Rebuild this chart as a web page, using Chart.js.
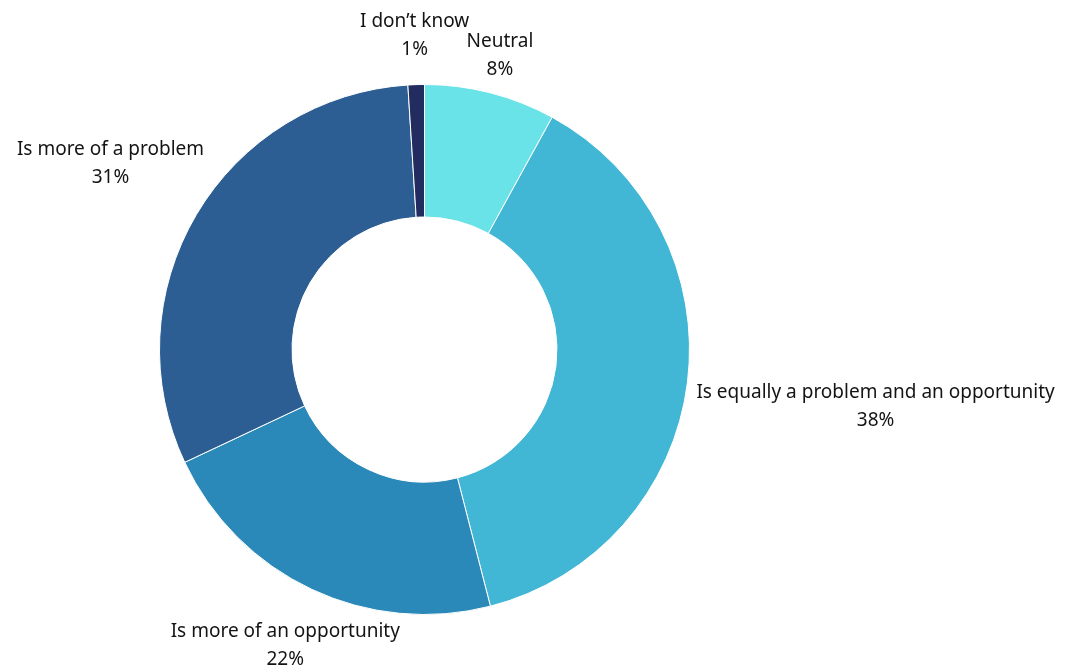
<!DOCTYPE html>
<html>
<head>
<meta charset="utf-8">
<script src="https://cdn.jsdelivr.net/npm/chart.js@4"></script>
<style>
  html, body { margin: 0; padding: 0; background: #fff; }
  #wrap { width: 1066px; height: 671px; }
</style>
</head>
<body>
<div id="wrap"><canvas id="donut"></canvas></div>
<script>
// Survey answers, clockwise from the top
const categories = [
  "Neutral",
  "Is equally a problem and an opportunity",
  "Is more of an opportunity",
  "Is more of a problem",
  "I don\u2019t know"
];
const shares = [8, 38, 22, 31, 1];
const sliceColors = ["#6ae3e8", "#42b6d5", "#2a89b8", "#2c5e94", "#232c5e"];

const FONT = "19px 'Noto Sans', sans-serif";
const LINE_H = 28;

// Draws "label / xx%" outside each slice, pushed out along the slice's mid-angle
const outsideLabels = {
  id: "outsideLabels",
  afterDatasetsDraw(chart) {
    const ctx = chart.ctx;
    const meta = chart.getDatasetMeta(0);
    ctx.save();
    ctx.font = FONT;
    ctx.fillStyle = "#141414";
    ctx.textAlign = "center";
    ctx.textBaseline = "middle";

    meta.data.forEach((arc, i) => {
      const p = arc.getProps(["x", "y", "startAngle", "endAngle", "outerRadius"], true);
      const mid = (p.startAngle + p.endAngle) / 2;
      const ux = Math.cos(mid), uy = Math.sin(mid);
      const lines = [categories[i], shares[i] + "%"];
      const w = Math.max(...lines.map((t) => ctx.measureText(t).width));
      const hw = w / 2, hh = (LINE_H + 18) / 2;
      // tiny slices get a bit more room so neighbours don't collide
      const gap = shares[i] < 2 ? 26 : 9;
      const target = p.outerRadius + gap;

      const nearest = (d) => {
        const cx = ux * d, cy = uy * d;
        const nx = Math.min(Math.max(0, cx - hw), cx + hw);
        const ny = Math.min(Math.max(0, cy - hh), cy + hh);
        return Math.hypot(nx, ny);
      };
      let lo = 0, hi = 1000;
      for (let k = 0; k < 40; k++) {
        const m = (lo + hi) / 2;
        if (nearest(m) < target) lo = m; else hi = m;
      }
      const cx = p.x + ux * hi, cy = p.y + uy * hi;
      ctx.fillText(lines[0], cx, cy - LINE_H / 2);
      ctx.fillText(lines[1], cx, cy + LINE_H / 2);
    });
    ctx.restore();
  }
};

new Chart(document.getElementById("donut"), {
  type: "doughnut",
  data: {
    labels: categories,
    datasets: [{
      data: shares,
      backgroundColor: sliceColors,
      borderColor: "#ffffff",
      borderWidth: 1
    }]
  },
  options: {
    responsive: true,
    maintainAspectRatio: false,
    animation: false,
    cutout: "50%",
    layout: { padding: { left: 159, right: 376, top: 84, bottom: 56 } },
    plugins: {
      legend: { display: false },
      tooltip: { enabled: false }
    }
  },
  plugins: [outsideLabels]
});
</script>
</body>
</html>
